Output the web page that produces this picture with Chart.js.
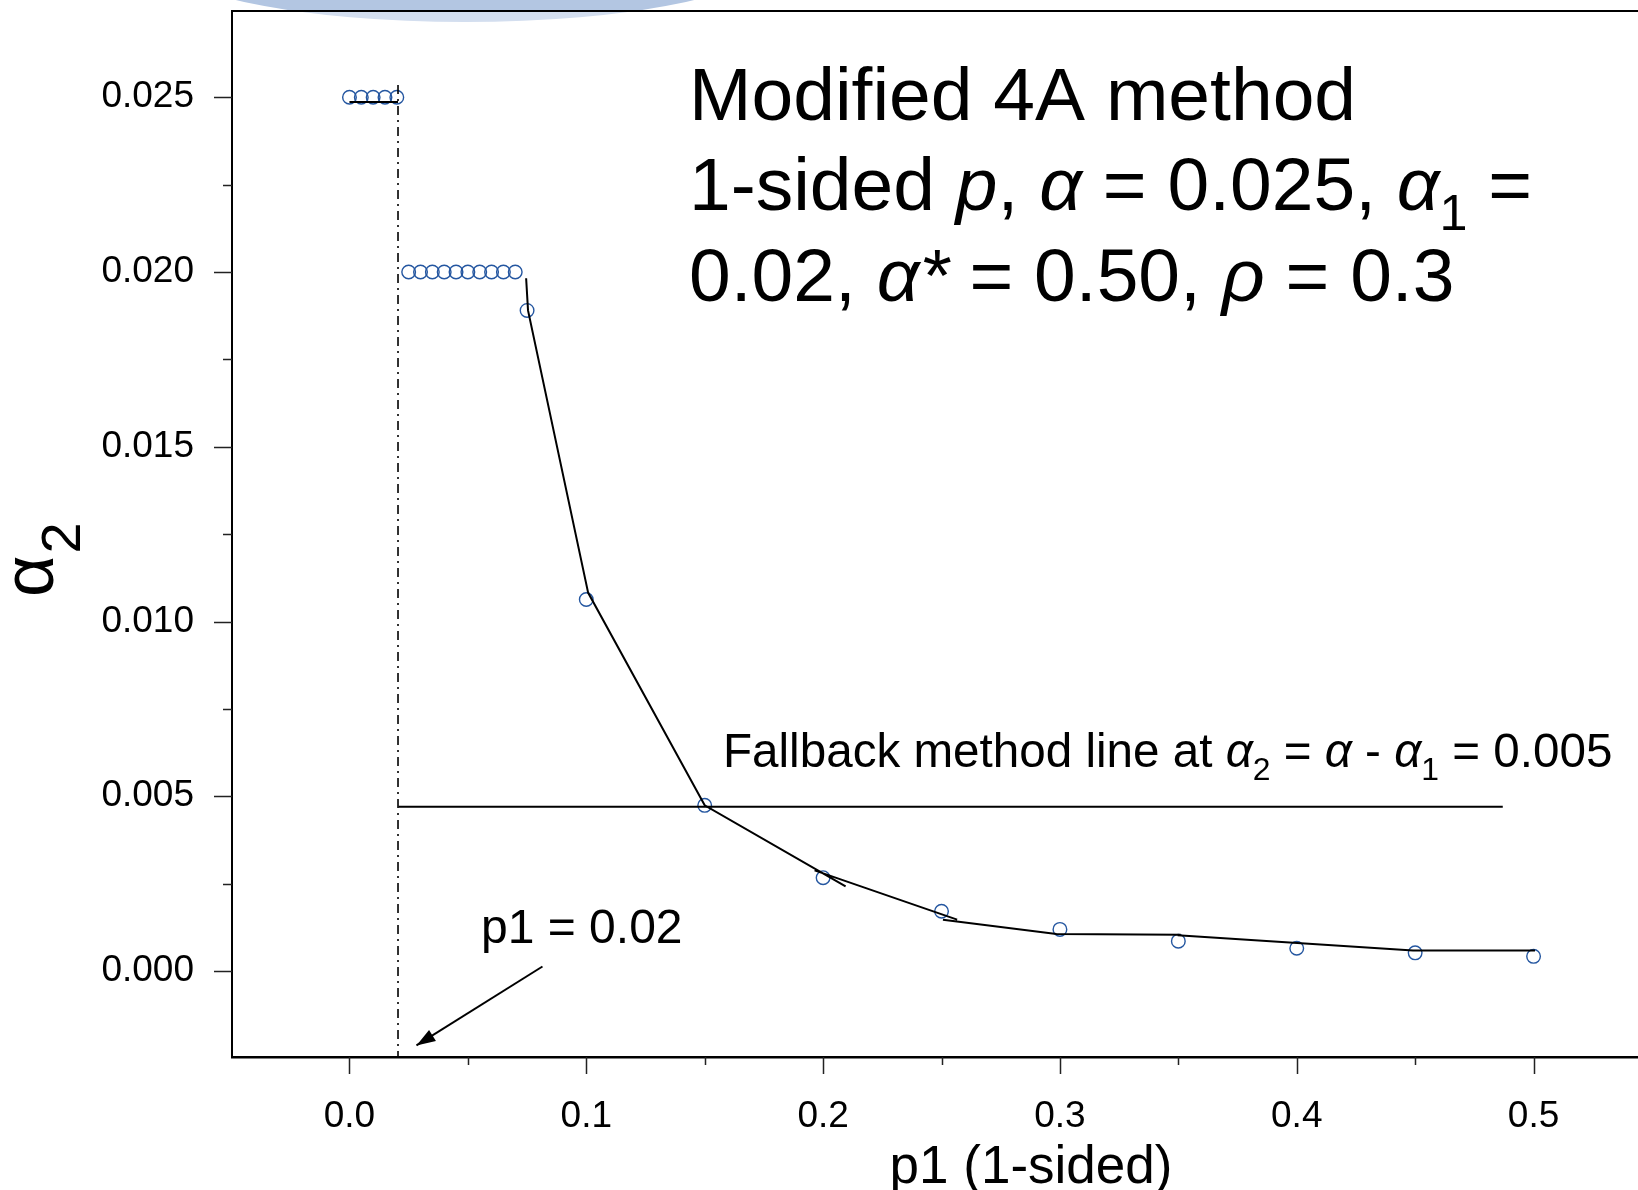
<!DOCTYPE html>
<html>
<head>
<meta charset="utf-8">
<script src="https://cdn.jsdelivr.net/npm/chart.js@4.4.1/dist/chart.umd.min.js"></script>
<style>
html, body { margin: 0; padding: 0; background: #fff; overflow: hidden; }
#wrap { width: 1638px; height: 1190px; }
</style>
</head>
<body>
<div id="wrap"><canvas id="chart" width="1638" height="1190"></canvas></div>
<script>
// open circles: alpha_2 at each p1
const p1Values = [0, 0.005, 0.01, 0.015, 0.02,
    0.025, 0.03, 0.035, 0.04, 0.045, 0.05, 0.055, 0.06, 0.065, 0.07,
    0.075, 0.1, 0.15, 0.2, 0.25, 0.3, 0.35, 0.4, 0.45, 0.5];
const alpha2Values = [0.025, 0.025, 0.025, 0.025, 0.025,
    0.02, 0.02, 0.02, 0.02, 0.02, 0.02, 0.02, 0.02, 0.02, 0.02,
    0.0189, 0.01063, 0.00474, 0.00267, 0.00171, 0.00119, 0.000855, 0.000652, 0.00052, 0.00042];

// black curve drawn in pieces (null = break)
const curveX = [0, 0.0205, null, 0.0746, 0.0754, 0.1008, 0.15, 0.2095, null,
    0.1964, 0.2566, null, 0.2506, 0.2985, 0.351, null, 0.3497, 0.4491, 0.5006];
const curveY = [0.02486, 0.02486, null, 0.01982, 0.0189, 0.01082, 0.00474, 0.00242, null,
    0.00288, 0.00147, null, 0.00147, 0.00106, 0.00104, null, 0.00102, 0.000587, 0.000587];

// fallback line and p1 cut-off
const fallbackX = [0.0207, 0.487];
const fallbackY = [0.0047, 0.0047];
const cutX = [0.0205, 0.0205];
const cutY = [0.02535, -0.00246];
// arrow pointing at p1 = 0.02
const arrowX = [0.0815, 0.0283];
const arrowY = [0.00013, -0.00213];

const xMajorTicks = [0, 0.1, 0.2, 0.3, 0.4, 0.5];
const xMinorTicks = [0.05, 0.15, 0.25, 0.35, 0.45];
const yMajorTicks = [0, 0.005, 0.01, 0.015, 0.02, 0.025];
const yMinorTicks = [0.0025, 0.0075, 0.0125, 0.0175, 0.0225];

const FONT = '"Liberation Sans", Arial, sans-serif';
const blue = '#2456a0';

function pts(xs, ys) {
    return xs.map((x, i) => (x === null ? {x: NaN, y: null} : {x: x, y: ys[i]}));
}

// draw text made of parts: [text, italic, subscript]
function richText(ctx, x, y, parts, size) {
    let cx = x;
    parts.forEach(p => {
        const s = p[2] ? size * 0.67 : size;
        ctx.font = (p[1] ? 'italic ' : '') + s + 'px ' + FONT;
        ctx.fillText(p[0], cx, p[2] ? y + size * 0.27 : y);
        cx += ctx.measureText(p[0]).width;
    });
}

const decorations = {
    id: 'decorations',
    beforeDraw(chart) {
        const ctx = chart.ctx;
        ctx.save();
        ctx.fillStyle = '#fff';
        ctx.fillRect(0, 0, chart.width, chart.height);
        // slide ellipse peeking in at the top
        ctx.beginPath();
        ctx.ellipse(465, -40, 300, 62, 0, 0, Math.PI * 2);
        ctx.save();
        ctx.clip();
        ctx.fillStyle = '#b3c6e2';
        ctx.fillRect(0, 0, chart.width, 11);
        ctx.fillStyle = '#d3deef';
        ctx.fillRect(0, 11, chart.width, 40);
        ctx.restore();
        ctx.restore();
    },
    afterDraw(chart) {
        const ctx = chart.ctx;
        const xs = chart.scales.x, ys = chart.scales.y;
        const area = chart.chartArea;
        ctx.save();
        // top frame line
        ctx.strokeStyle = '#000';
        ctx.lineWidth = 2;
        ctx.beginPath();
        ctx.moveTo(area.left - 1, area.top);
        ctx.lineTo(area.right, area.top);
        ctx.stroke();

        // tick marks
        ctx.strokeStyle = '#222';
        ctx.lineWidth = 1.5;
        ctx.beginPath();
        xMajorTicks.concat(xMinorTicks).forEach(v => {
            const px = Math.round(xs.getPixelForValue(v)) + 0.5;
            const len = xMajorTicks.includes(v) ? 17 : 8;
            ctx.moveTo(px, area.bottom);
            ctx.lineTo(px, area.bottom + len);
        });
        yMajorTicks.concat(yMinorTicks).forEach(v => {
            const py = Math.round(ys.getPixelForValue(v)) + 0.5;
            const len = yMajorTicks.includes(v) ? 18 : 9;
            ctx.moveTo(area.left, py);
            ctx.lineTo(area.left - len, py);
        });
        ctx.stroke();

        // arrow head
        const x0 = xs.getPixelForValue(arrowX[0]), y0 = ys.getPixelForValue(arrowY[0]);
        const x1 = xs.getPixelForValue(arrowX[1]), y1 = ys.getPixelForValue(arrowY[1]);
        const ang = Math.atan2(y1 - y0, x1 - x0);
        ctx.fillStyle = '#000';
        ctx.beginPath();
        ctx.moveTo(x1, y1);
        ctx.lineTo(x1 - 20 * Math.cos(ang - 0.33), y1 - 20 * Math.sin(ang - 0.33));
        ctx.lineTo(x1 - 20 * Math.cos(ang + 0.33), y1 - 20 * Math.sin(ang + 0.33));
        ctx.closePath();
        ctx.fill();

        // annotations
        ctx.fillStyle = '#000';
        ctx.textBaseline = 'alphabetic';
        ctx.textAlign = 'left';
        richText(ctx, 689, 120, [['Modified 4A method', false, false]], 75);
        richText(ctx, 689, 210, [['1-sided ', false, false], ['p', true, false], [', ', false, false],
            ['α', true, false], [' = 0.025, ', false, false], ['α', true, false], ['1', false, true],
            [' =', false, false]], 75);
        richText(ctx, 689, 301, [['0.02, ', false, false], ['α*', true, false], [' = 0.50, ', false, false],
            ['ρ', true, false], [' = 0.3', false, false]], 75);
        richText(ctx, 723, 767, [['Fallback method line at ', false, false], ['α', true, false],
            ['2', false, true], [' = ', false, false], ['α', true, false], [' - ', false, false],
            ['α', true, false], ['1', false, true], [' = 0.005', false, false]], 47.6);
        richText(ctx, 481, 943, [['p1 = 0.02', false, false]], 48);

        // y axis title alpha_2, rotated
        ctx.translate(53, 597);
        ctx.rotate(-Math.PI / 2);
        ctx.font = '72px ' + FONT;
        ctx.fillText('α', 0, 0);
        const w = ctx.measureText('α').width;
        ctx.font = '56px ' + FONT;
        ctx.fillText('2', w + 2, 27);

        // x axis title
        ctx.setTransform(1, 0, 0, 1, 0, 0);
        ctx.textAlign = 'center';
        ctx.font = '53px ' + FONT;
        ctx.fillText('p1 (1-sided)', 1031, 1183);
        ctx.restore();
    }
};

new Chart(document.getElementById('chart'), {
    type: 'scatter',
    data: {
        datasets: [
            {
                data: pts(curveX, curveY),
                showLine: true,
                spanGaps: false,
                borderColor: '#000',
                borderWidth: 2,
                pointRadius: 0
            },
            {
                data: pts(fallbackX, fallbackY),
                showLine: true,
                borderColor: '#000',
                borderWidth: 2,
                pointRadius: 0
            },
            {
                data: pts(cutX, cutY),
                showLine: true,
                borderColor: '#000',
                borderWidth: 1.6,
                borderDash: [9, 5, 2, 5],
                pointRadius: 0
            },
            {
                data: pts(arrowX, arrowY),
                showLine: true,
                borderColor: '#000',
                borderWidth: 2,
                pointRadius: 0
            },
            {
                data: pts(p1Values, alpha2Values),
                showLine: false,
                pointStyle: 'circle',
                pointRadius: 6.8,
                pointBorderWidth: 1.4,
                borderColor: blue,
                backgroundColor: 'rgba(0,0,0,0)'
            }
        ]
    },
    options: {
        responsive: false,
        animation: false,
        devicePixelRatio: 1,
        layout: { autoPadding: false, padding: { top: 11, right: 0, bottom: 0, left: 0 } },
        plugins: {
            legend: { display: false },
            tooltip: { enabled: false }
        },
        scales: {
            x: {
                type: 'linear',
                min: -0.0496,
                max: 0.5441,
                afterBuildTicks: s => { s.ticks = xMajorTicks.map(v => ({ value: v })); },
                afterFit: s => { s.height = 133; s.paddingLeft = 0; s.paddingRight = 0; },
                grid: { drawOnChartArea: false, drawTicks: true, tickLength: 17, color: 'rgba(0,0,0,0)' },
                border: { display: true, color: '#000', width: 2.5 },
                ticks: {
                    padding: 21,
                    maxRotation: 0,
                    color: '#000',
                    font: { family: FONT, size: 37 },
                    callback: v => v.toFixed(1)
                }
            },
            y: {
                type: 'linear',
                min: -0.00246,
                max: 0.027467,
                afterBuildTicks: s => { s.ticks = yMajorTicks.map(v => ({ value: v })); },
                afterFit: s => { s.width = 232; s.paddingTop = 0; s.paddingBottom = 0; },
                grid: { drawOnChartArea: false, drawTicks: true, tickLength: 18, color: 'rgba(0,0,0,0)' },
                border: { display: true, color: '#000', width: 2 },
                ticks: {
                    padding: 20,
                    color: '#000',
                    font: { family: FONT, size: 37 },
                    callback: v => v.toFixed(3)
                }
            }
        }
    },
    plugins: [decorations]
});
</script>
</body>
</html>
